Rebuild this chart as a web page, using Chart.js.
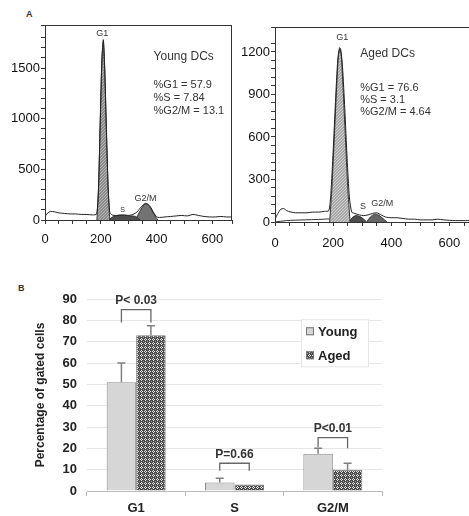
<!DOCTYPE html>
<html>
<head>
<meta charset="utf-8">
<script src="https://cdn.jsdelivr.net/npm/chart.js@4.4.1/dist/chart.umd.min.js"></script>
<style>
  html, body { margin: 0; padding: 0; background: #fff; overflow: hidden; }
  body { width: 469px; height: 516px; position: relative; font-family: "Liberation Sans", Arial, sans-serif; }
  canvas { position: absolute; }
  .tag { position: absolute; font-size: 9px; font-weight: bold; color: #333; }
</style>
</head>
<body>
<div class="tag" style="left:26px;top:9px">A</div>
<div class="tag" style="left:18px;top:283px">B</div>
<canvas id="young" width="240" height="255" style="left:0;top:0"></canvas>
<canvas id="aged" width="250" height="255" style="left:240px;top:0"></canvas>
<canvas id="bars" width="469" height="246" style="left:0;top:270px"></canvas>
<script>
// panel A - DNA histograms (channel, count)
const youngX = [0, 10, 20, 35, 50, 70, 90, 110, 130, 150, 170, 185, 192, 198, 204, 209, 214, 220, 226, 232, 240, 255, 270, 285, 300, 315, 330, 345, 360, 375, 390, 400, 410, 430, 450, 470, 490, 510, 530, 550, 570, 590, 610, 630, 650, 670];
const youngY = [35, 70, 85, 80, 70, 65, 60, 60, 55, 55, 50, 60, 350, 1000, 1600, 1780, 1500, 900, 350, 80, 50, 45, 50, 50, 45, 55, 80, 130, 165, 140, 70, 30, 25, 30, 35, 40, 45, 40, 55, 45, 35, 30, 30, 35, 30, 30];
const youngG1X = [186, 192, 198, 204, 209, 214, 220, 226, 232];
const youngG1Y = [0, 330, 980, 1580, 1760, 1480, 880, 330, 0];
const youngSX = [228, 245, 265, 285, 305, 325, 340];
const youngSY = [0, 35, 45, 45, 40, 35, 0];
const youngG2X = [325, 335, 345, 355, 362, 370, 380, 390, 400, 405];
const youngG2Y = [0, 60, 110, 150, 160, 150, 110, 60, 15, 0];

const agedX = [0, 10, 20, 30, 40, 55, 70, 90, 110, 130, 150, 170, 185, 192, 200, 208, 216, 222, 226, 232, 240, 248, 256, 264, 275, 290, 305, 320, 335, 350, 365, 380, 400, 420, 440, 460, 480, 500, 520, 540, 560, 580, 600, 620, 640, 670, 700];
const agedY = [20, 60, 90, 95, 80, 70, 65, 65, 65, 70, 70, 75, 80, 200, 500, 850, 1150, 1230, 1220, 1100, 800, 450, 170, 70, 60, 50, 45, 50, 60, 65, 50, 35, 30, 30, 25, 20, 20, 15, 15, 15, 20, 15, 12, 10, 10, 10, 10];
const agedFitX = [0, 40, 100, 150, 188];
const agedFitY = [0, 10, 15, 18, 22];
const agedG1X = [188, 196, 204, 212, 218, 223, 228, 234, 242, 250, 258];
const agedG1Y = [0, 250, 600, 950, 1170, 1220, 1170, 950, 600, 250, 0];
const agedSX = [255, 265, 278, 290, 302, 315];
const agedSY = [0, 30, 45, 40, 25, 0];
const agedG2X = [315, 328, 342, 355, 368, 385];
const agedG2Y = [0, 35, 55, 50, 30, 0];

// panel B - percentage of gated cells
const phases = ["G1", "S", "G2/M"];
const young = [51, 4, 17.5];
const aged = [73, 3, 10];
const youngErr = [9, 2, 2.5];
const agedErr = [4.5, 0, 3];
const pLabels = ["P< 0.03", "P=0.66", "P<0.01"];
const pBracket = [85, 13, 25];
const pLegLeft = [79, 9.5, 20.5];
const pLegRight = [79, 9.5, 20];

const FONT = "'Liberation Sans', Arial, sans-serif";

function pts(xs, ys) {
  return xs.map((x, i) => ({ x: x, y: ys[i] }));
}

function hatch(bg, fg) {
  const c = document.createElement("canvas");
  c.width = 3; c.height = 3;
  const g = c.getContext("2d");
  g.fillStyle = bg; g.fillRect(0, 0, 3, 3);
  g.fillStyle = fg; g.fillRect(0, 0, 1, 1); g.fillRect(1, 2, 1, 1); g.fillRect(2, 1, 1, 1);
  return g.createPattern(c, "repeat");
}

function checker() {
  const c = document.createElement("canvas");
  c.width = 4; c.height = 4;
  const g = c.getContext("2d");
  g.fillStyle = "#4a4a4a"; g.fillRect(0, 0, 4, 4);
  g.fillStyle = "#e8e8e8";
  g.fillRect(1, 0, 1, 1); g.fillRect(0, 1, 1, 1); g.fillRect(2, 1, 1, 1); g.fillRect(1, 2, 1, 1);
  g.fillStyle = "#9a9a9a";
  g.fillRect(3, 3, 1, 1);
  return g.createPattern(c, "repeat");
}

const boxPlugin = {
  id: "box",
  afterDraw(chart) {
    const a = chart.chartArea, ctx = chart.ctx;
    ctx.save();
    ctx.strokeStyle = "#333";
    ctx.lineWidth = 1;
    ctx.strokeRect(a.left + 0.5, a.top + 0.5, a.right - a.left - 1, a.bottom - a.top);
    ctx.restore();
  }
};

const textPlugin = {
  id: "notes",
  afterDatasetsDraw(chart, args, opts) {
    const ctx = chart.ctx, sx = chart.scales.x, sy = chart.scales.y;
    ctx.save();
    ctx.textBaseline = "middle";
    (opts.items || []).forEach(t => {
      ctx.font = t.size + "px " + FONT;
      ctx.fillStyle = t.color || "#333";
      ctx.textAlign = t.align || "center";
      ctx.fillText(t.text, sx.getPixelForValue(t.x), sy.getPixelForValue(t.y));
    });
    ctx.restore();
  }
};

function histChart(id, cfg) {
  const tickFont = { family: FONT, size: 13 };
  const ds = [
    { data: pts(cfg.lineX, cfg.lineY), borderColor: "#222", borderWidth: 1, fill: false, tension: 0.25 }
  ];
  if (cfg.fitX) {
    ds.push({ data: pts(cfg.fitX, cfg.fitY), borderColor: "#333", borderWidth: 1, fill: false, tension: 0.3 });
  }
  ds.push(
    { data: pts(cfg.g1X, cfg.g1Y), borderColor: "#333", borderWidth: 1, backgroundColor: cfg.g1Fill, fill: "origin", tension: 0.25 },
    { data: pts(cfg.sX, cfg.sY), borderColor: "#333", borderWidth: 1, backgroundColor: "#4d4d4d", fill: "origin", tension: 0.3 },
    { data: pts(cfg.g2X, cfg.g2Y), borderColor: "#333", borderWidth: 1, backgroundColor: cfg.g2Fill, fill: "origin", tension: 0.3 }
  );
  return new Chart(document.getElementById(id), {
    type: "line",
    data: { datasets: ds },
    options: {
      responsive: false,
      animation: false,
      layout: { padding: cfg.padding },
      elements: { point: { radius: 0 } },
      plugins: { legend: { display: false }, tooltip: { enabled: false }, notes: { items: cfg.notes } },
      scales: {
        x: {
          type: "linear", min: 0, max: cfg.xMax,
          afterFit: s => { s.height = cfg.xH; },
          border: { color: "#333" },
          grid: { drawOnChartArea: false, tickLength: 4, color: "#333" },
          ticks: { stepSize: 50, padding: cfg.xPad, color: "#111", font: tickFont, maxRotation: 0, autoSkip: false,
            callback: v => (v % 200 === 0 ? v : "") }
        },
        y: {
          min: 0, max: cfg.yMax,
          afterFit: s => { s.width = cfg.yW; },
          border: { color: "#333" },
          grid: { drawOnChartArea: false, tickLength: 4, color: "#333" },
          ticks: { stepSize: cfg.yMinor, padding: 1, color: "#111", font: tickFont, autoSkip: false,
            callback: v => (v % cfg.yMajor === 0 ? v : "") }
        }
      }
    },
    plugins: [boxPlugin, textPlugin]
  });
}

histChart("young", {
  lineX: youngX, lineY: youngY,
  g1X: youngG1X, g1Y: youngG1Y, sX: youngSX, sY: youngSY, g2X: youngG2X, g2Y: youngG2Y,
  g1Fill: hatch("#8c8c8c", "#b5b5b5"), g2Fill: "#737373",
  xMax: 670, yMax: 1925, yMinor: 100, yMajor: 500,
  padding: { top: 25, right: 2 }, xH: 35, yW: 45, xPad: 8,
  notes: [
    { text: "G1", x: 205, y: 1845, size: 9 },
    { text: "G2/M", x: 360, y: 217, size: 9 },
    { text: "S", x: 278, y: 99, size: 7 },
    { text: "Young DCs", x: 389, y: 1609, size: 12, align: "left" },
    { text: "%G1 = 57.9", x: 389, y: 1333, size: 11, align: "left" },
    { text: "%S = 7.84", x: 389, y: 1204, size: 11, align: "left" },
    { text: "%G2/M = 13.1", x: 389, y: 1076, size: 11, align: "left" }
  ]
});

histChart("aged", {
  lineX: agedX, lineY: agedY, fitX: agedFitX, fitY: agedFitY,
  g1X: agedG1X, g1Y: agedG1Y, sX: agedSX, sY: agedSY, g2X: agedG2X, g2Y: agedG2Y,
  g1Fill: hatch("#a8a8a8", "#d0d0d0"), g2Fill: "#666",
  xMax: 705, yMax: 1376, yMinor: 60, yMajor: 300,
  padding: { top: 27, right: 1 }, xH: 33, yW: 35, xPad: 10,
  notes: [
    { text: "G1", x: 231, y: 1299, size: 9 },
    { text: "S", x: 303, y: 106, size: 9 },
    { text: "G2/M", x: 369, y: 127, size: 9 },
    { text: "Aged DCs", x: 293, y: 1186, size: 12, align: "left" },
    { text: "%G1 = 76.6", x: 293, y: 946, size: 11, align: "left" },
    { text: "%S = 3.1", x: 293, y: 861, size: 11, align: "left" },
    { text: "%G2/M = 4.64", x: 293, y: 776, size: 11, align: "left" }
  ]
});

// panel B
const agedPattern = checker();

const barExtras = {
  id: "barExtras",
  afterDatasetsDraw(chart) {
    const ctx = chart.ctx, sy = chart.scales.y;
    const errs = [youngErr, agedErr];
    ctx.save();
    // error bars
    ctx.strokeStyle = "#808080";
    ctx.lineWidth = 1.5;
    chart.data.datasets.forEach((d, di) => {
      chart.getDatasetMeta(di).data.forEach((el, i) => {
        const e = errs[di][i];
        if (!e) return;
        const yt = sy.getPixelForValue(d.data[i] + e);
        ctx.beginPath();
        ctx.moveTo(el.x, el.y); ctx.lineTo(el.x, yt);
        ctx.moveTo(el.x - 4, yt); ctx.lineTo(el.x + 4, yt);
        ctx.stroke();
      });
    });
    // significance brackets
    const m0 = chart.getDatasetMeta(0).data, m1 = chart.getDatasetMeta(1).data;
    ctx.strokeStyle = "#666";
    ctx.lineWidth = 1.3;
    ctx.fillStyle = "#333";
    ctx.font = "bold 12px " + FONT;
    ctx.textAlign = "center";
    ctx.textBaseline = "middle";
    phases.forEach((p, i) => {
      const x0 = m0[i].x, x1 = m1[i].x, yb = sy.getPixelForValue(pBracket[i]);
      ctx.beginPath();
      ctx.moveTo(x0, sy.getPixelForValue(pLegLeft[i]));
      ctx.lineTo(x0, yb); ctx.lineTo(x1, yb);
      ctx.lineTo(x1, sy.getPixelForValue(pLegRight[i]));
      ctx.stroke();
      ctx.fillText(pLabels[i], (x0 + x1) / 2, yb - 9);
    });
    // legend
    const a = chart.chartArea;
    const lx = a.left + 214, ly = sy.getPixelForValue(80.5);
    ctx.strokeStyle = "#e6e6e6";
    ctx.lineWidth = 1;
    ctx.fillStyle = "#fff";
    ctx.fillRect(lx, ly, 67, 47);
    ctx.strokeRect(lx + 0.5, ly + 0.5, 67, 47);
    chart.data.datasets.forEach((d, di) => {
      const cy = ly + 12 + di * 24;
      ctx.fillStyle = d.backgroundColor;
      ctx.fillRect(lx + 5, cy - 4, 8, 8);
      ctx.strokeStyle = "#777";
      ctx.strokeRect(lx + 5.5, cy - 3.5, 7, 7);
      ctx.fillStyle = "#222";
      ctx.textAlign = "left";
      ctx.font = "bold 13px " + FONT;
      ctx.fillText(d.label, lx + 17, cy + 1);
    });
    ctx.restore();
  }
};

new Chart(document.getElementById("bars"), {
  type: "bar",
  data: {
    labels: phases,
    datasets: [
      { label: "Young", data: young, backgroundColor: "#d6d6d6", borderColor: "#8a8a8a", borderWidth: 1 },
      { label: "Aged", data: aged, backgroundColor: agedPattern, borderColor: "#777", borderWidth: 1 }
    ]
  },
  options: {
    responsive: false,
    animation: false,
    layout: { padding: { top: 29, right: 87 } },
    datasets: { bar: { categoryPercentage: 0.6, barPercentage: 1.0 } },
    plugins: { legend: { display: false }, tooltip: { enabled: false } },
    scales: {
      x: {
        afterFit: s => { s.height = 25; },
        border: { color: "#bbb" },
        grid: { drawOnChartArea: false, tickLength: 5, color: "#bbb" },
        ticks: { padding: 5, color: "#222", font: { family: FONT, size: 13, weight: "bold" } }
      },
      y: {
        min: 0, max: 90,
        afterFit: s => { s.width = 87; },
        border: { display: false },
        grid: { color: "#e6e6e6", drawTicks: false },
        ticks: { stepSize: 10, padding: 10, color: "#222", font: { family: FONT, size: 13, weight: "bold" } },
        title: { display: true, text: "Percentage of gated cells", color: "#222",
          font: { family: FONT, size: 12, weight: "bold" }, padding: { top: 33, bottom: 0 } }
      }
    }
  },
  plugins: [barExtras]
});
</script>
</body>
</html>
